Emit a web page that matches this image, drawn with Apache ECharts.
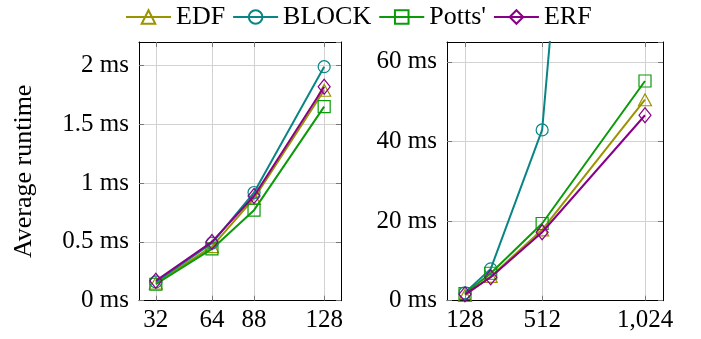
<!DOCTYPE html>
<html>
<head>
<meta charset="utf-8">
<script src="https://cdn.jsdelivr.net/npm/echarts@6/dist/echarts.min.js"></script>
<style>html,body{margin:0;padding:0;background:#fff}#c{width:701px;height:339px}</style>
</head>
<body>
<div id="c"></div>
<script>
// ---- data ----
const seriesNames = ['EDF', 'BLOCK', "Potts'", 'ERF'];
const leftX = [32, 64, 88, 128];
const rightX = [128, 256, 512, 1024];
const leftXTicks = [32, 64, 88, 128];
const rightXTicks = [128, 512, 1024];
const edfLeft = [0.15, 0.46, 0.87, 1.79];
const blockLeft = [0.16, 0.49, 0.92, 1.99];
const pottsLeft = [0.14, 0.44, 0.77, 1.65];
const erfLeft = [0.17, 0.50, 0.89, 1.82];
const edfRight = [1.3, 6.1, 17.8, 50.5];
const blockRight = [2.0, 8.0, 42.9, 340];
const pottsRight = [1.8, 6.9, 19.4, 55.2];
const erfRight = [1.6, 5.9, 17.2, 46.6];

const colors = ['#9a9400', '#0a8585', '#0a9a0a', '#880088'];
const symbols = ['triangle', 'circle', 'rect', 'diamond'];
const symbolSizes = [[13, 12], 12, 12, [12, 15]];
const FONT = 'Liberation Serif';

const chart = echarts.init(document.getElementById('c'));

function pair(xs, ys) { return xs.map((x, i) => [x, ys[i]]); }

function mkSeries(name, idx, data, xi, yi) {
  return {
    name: name, type: 'line', xAxisIndex: xi, yAxisIndex: yi,
    data: data, symbol: symbols[idx], symbolSize: symbolSizes[idx],
    clip: true, z: 3 + idx,
    lineStyle: { color: colors[idx], width: 2 },
    itemStyle: { color: 'rgba(255,255,255,0)', borderColor: colors[idx], borderWidth: 1.2 },
    emphasis: { disabled: true }, animation: false
  };
}

const tickStyle = { show: true, inside: true, length: 5, lineStyle: { color: '#777', width: 1 } };
const lineStyleAxis = { show: true, onZero: false, lineStyle: { color: '#000', width: 1 } };
const labelStyle = { color: '#000', fontFamily: FONT, fontSize: 25 };
const gridLine = { show: true, lineStyle: { color: '#d2d2d2', width: 1 } };

function xAxisPair(gi, min, max, ticks, fmt) {
  return [
    { type: 'value', gridIndex: gi, position: 'bottom', min: min, max: max,
      axisLine: lineStyleAxis, axisTick: Object.assign({ customValues: ticks }, tickStyle),
      axisLabel: Object.assign({ customValues: ticks, margin: 7, formatter: fmt }, labelStyle),
      splitLine: gridLine },
    { type: 'value', gridIndex: gi, position: 'top', min: min, max: max,
      axisLine: lineStyleAxis, axisTick: Object.assign({ customValues: ticks }, tickStyle),
      axisLabel: { show: false }, splitLine: { show: false } }
  ];
}
function yAxisPair(gi, min, max, interval, extra) {
  return [
    Object.assign({ type: 'value', gridIndex: gi, position: 'left', min: min, max: max, interval: interval,
      axisLine: lineStyleAxis, axisTick: tickStyle,
      axisLabel: Object.assign({ margin: 10, formatter: v => v + ' ms' }, labelStyle),
      splitLine: gridLine }, extra || {}),
    { type: 'value', gridIndex: gi, position: 'right', min: min, max: max, interval: interval,
      axisLine: lineStyleAxis, axisTick: tickStyle, axisLabel: { show: false }, splitLine: { show: false } }
  ];
}

const fmtComma = v => v.toLocaleString('en-US');

const xAxes = [].concat(
  xAxisPair(0, 22.4, 137.6, leftXTicks, v => String(v)),
  xAxisPair(1, 38.4, 1113.6, rightXTicks, fmtComma)
);
const yAxes = [].concat(
  yAxisPair(0, 0, 2.2, 0.5, {
    name: 'Average runtime', nameLocation: 'middle', nameRotate: 90, nameGap: 102,
    nameTextStyle: { color: '#000', fontFamily: FONT, fontSize: 26 }
  }),
  yAxisPair(1, 0, 65, 20)
);

const leftData = [edfLeft, blockLeft, pottsLeft, erfLeft];
const rightData = [edfRight, blockRight, pottsRight, erfRight];
const series = [];
seriesNames.forEach((n, i) => series.push(mkSeries(n, i, pair(leftX, leftData[i]), 0, 0)));
seriesNames.forEach((n, i) => series.push(mkSeries(n, i, pair(rightX, rightData[i]), 2, 2)));

chart.setOption({
  animation: false,
  backgroundColor: '#fff',
  textStyle: { fontFamily: FONT },
  legend: {
    data: seriesNames, left: 120, top: -1, itemWidth: 45, itemHeight: 17, itemGap: 7,
    textStyle: { color: '#000', fontFamily: FONT, fontSize: 26 }, selectedMode: false
  },
  grid: [
    { left: 139, width: 202, top: 42, height: 258.7 },
    { left: 447, width: 216, top: 42, height: 258.7 }
  ],
  xAxis: xAxes,
  yAxis: yAxes,
  series: series
});
</script>
</body>
</html>
